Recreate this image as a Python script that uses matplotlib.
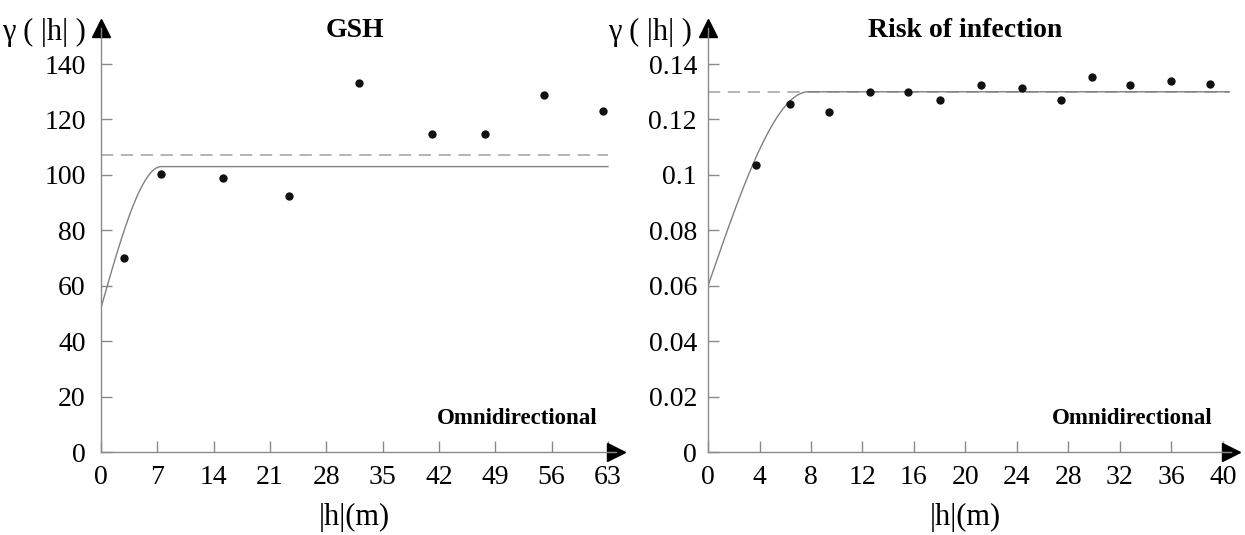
import numpy as np
import matplotlib
matplotlib.use('Agg')
from matplotlib import pyplot as plt

plt.rcParams['font.family'] = ['Liberation Serif', 'DejaVu Serif']

# GSH experimental variogram
gsh_lag = [2.8, 7.5, 15.2, 23.4, 32.1, 41.1, 47.7, 55.0, 62.4]
gsh_gamma = [70.1, 100.2, 98.8, 92.4, 133.1, 114.6, 114.6, 128.8, 123.1]
gsh_nugget, gsh_sill, gsh_range = 52.0, 103.0, 7.5
gsh_var = 107.3
gsh_xticks = [0, 7, 14, 21, 28, 35, 42, 49, 56, 63]
gsh_yticks = [0, 20, 40, 60, 80, 100, 120, 140]

# Risk of infection experimental variogram
risk_lag = [3.7, 6.4, 9.4, 12.6, 15.5, 18.0, 21.2, 24.4, 27.4, 29.8, 32.8, 36.0, 39.0]
risk_gamma = [0.1034, 0.1255, 0.1227, 0.1299, 0.1299, 0.1271, 0.1325, 0.1312,
              0.1271, 0.1354, 0.1325, 0.1340, 0.1327]
risk_nugget, risk_sill, risk_range = 0.060, 0.130, 7.8
risk_var = 0.130
risk_xticks = [0, 4, 8, 12, 16, 20, 24, 28, 32, 36, 40]
risk_yticks = [0, 0.02, 0.04, 0.06, 0.08, 0.1, 0.12, 0.14]
risk_yticklabels = ['0', '0.02', '0.04', '0.06', '0.08', '0.1', '0.12', '0.14']


def spherical(h, c0, c, a):
    r = np.minimum(h / a, 1.0)
    return c0 + (c - c0) * (1.5 * r - 0.5 * r ** 3)


def draw(ax, lag, gamma, c0, c, a, var, xend, xmax, ymax, xticks, yticks, yticklabels, title, ypad):
    hh = np.linspace(0, xend, 400)
    ax.plot([0, xend], [var, var], color='#a0a0a0', lw=1.1, dashes=(8, 5))
    ax.plot(hh, spherical(hh, c0, c, a), color='#808080', lw=1.0)
    ax.plot(lag, gamma, 'o', color='#111111', ms=6, mec='none')

    ax.set_xlim(0, xmax)
    ax.set_ylim(0, ymax)
    for s in ['top', 'right']:
        ax.spines[s].set_visible(False)
    for s in ['left', 'bottom']:
        ax.spines[s].set_color('#8a8a8a')
        ax.spines[s].set_linewidth(1.0)
    ax.plot(1, 0, '>', color='black', ms=12.5, transform=ax.transAxes, clip_on=False)
    ax.plot(0, 1, '^', color='black', ms=12.5, transform=ax.transAxes, clip_on=False)

    ax.set_xticks(xticks)
    ax.set_xticklabels([str(t) for t in xticks])
    ax.set_yticks(yticks)
    ax.set_yticklabels(yticklabels)
    ax.tick_params(direction='in', length=8, width=1, color='#8a8a8a', labelsize=20)
    ax.tick_params(axis='x', pad=9)
    ax.tick_params(axis='y', pad=ypad)

    ax.set_xlabel('|h|(m)', fontsize=22)
    ax.xaxis.set_label_coords(xticks[-1] / 2 / xmax, -0.12)
    ax.text(-0.03, 0.99, 'γ ( |h| )', transform=ax.transAxes, ha='right', va='center', fontsize=22)
    ax.text(0.5 * xticks[-1] / xmax, 0.995, title, transform=ax.transAxes, ha='center',
            va='center', fontsize=20, fontweight='bold')
    ax.text(0.965, 0.08, 'Omnidirectional', transform=ax.transAxes, ha='right',
            va='center', fontsize=16.5, fontweight='bold')


fig = plt.figure(figsize=(12.45, 5.35), dpi=100)
ax1 = fig.add_axes([0.0811, 0.1551, 0.4137, 0.7925])
ax2 = fig.add_axes([0.5687, 0.1551, 0.4197, 0.7925])

draw(ax1, gsh_lag, gsh_gamma, gsh_nugget, gsh_sill, gsh_range, gsh_var, 63, 64, 153,
     gsh_xticks, gsh_yticks, [str(t) for t in gsh_yticks], 'GSH', 11)
draw(ax2, risk_lag, risk_gamma, risk_nugget, risk_sill, risk_range, risk_var, 40.5, 40.6, 0.153,
     risk_xticks, risk_yticks, risk_yticklabels, 'Risk of infection', 8)

plt.savefig('out.png', dpi=100)
